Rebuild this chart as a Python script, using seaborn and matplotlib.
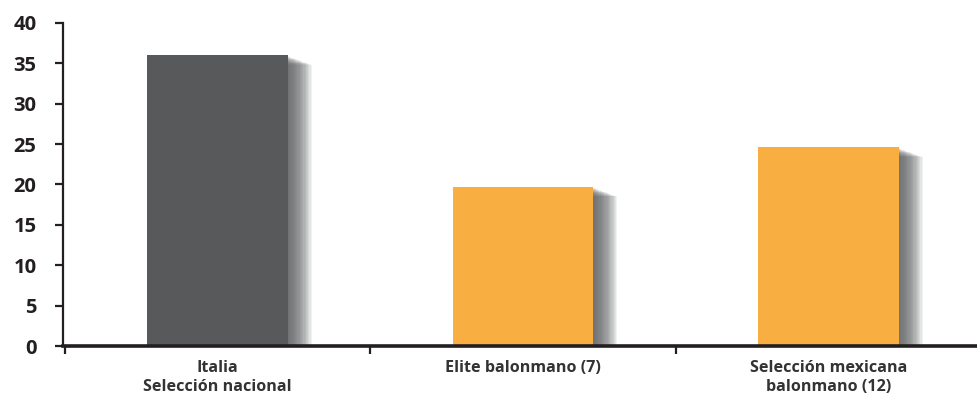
import matplotlib
matplotlib.use("Agg")
import matplotlib.pyplot as plt
import matplotlib.patheffects as pe
import seaborn as sns
import pandas as pd

categories = ["Italia\nSelección nacional", "Elite balonmano (7)", "Selección mexicana\nbalonmano (12)"]
values = [36.0, 19.7, 24.6]
bar_colors = ["#58595b", "#f9ae42", "#f9ae42"]
yticks = [0, 5, 10, 15, 20, 25, 30, 35, 40]

sns.set_theme(style="ticks")
plt.rcParams["font.family"] = ["Open Sans", "DejaVu Sans"]

df = pd.DataFrame({"grupo": categories, "valor": values})

fig = plt.figure(figsize=(9.78, 3.98), dpi=100)
ax = fig.add_axes([63 / 978, 52 / 398, 1 - 63 / 978, (346 - 23) / 398])

sns.barplot(data=df, x="grupo", y="valor", hue="grupo", palette=bar_colors,
            width=0.46, legend=False, ax=ax, saturation=1, zorder=3)

# soft drop shadow built from stacked translucent offsets (offsets in points)
shadow = []
for k in range(20):
    dx_px = 1.5 + k * 1.2
    dy_px = 1.0 + k * 0.45
    shadow.append(pe.SimplePatchShadow(offset=(dx_px * 0.72, -dy_px * 0.72),
                                       shadow_rgbFace="#5c5d60", alpha=0.085))
shadow.append(pe.Normal())
for p in ax.patches:
    p.set_path_effects(shadow)
    p.set_edgecolor("none")

ax.set_ylim(0, 40)
ax.set_xlim(-0.505, 2.49)
ax.set_yticks(yticks)
ax.set_yticklabels([str(t) for t in yticks], fontsize=14.5, fontweight="bold", color="#231f20")
ax.set_xticks([0, 1, 2])
ax.set_xticklabels(categories, fontsize=11.6, fontweight="bold", color="#333333", linespacing=1.3)
ax.set_xticks([-0.5, 0.5, 1.5], minor=True)
ax.tick_params(axis="x", which="major", bottom=True, length=0, pad=10)
ax.tick_params(axis="x", which="minor", bottom=True, length=6, width=1.6, color="#231f20", direction="out")
ax.tick_params(axis="y", left=True, length=6, width=1.6, color="#231f20", direction="out", pad=13)
ax.set_xlabel("")
ax.set_ylabel("")

for side in ["top", "right"]:
    ax.spines[side].set_visible(False)
ax.spines["left"].set_color("#231f20")
ax.spines["left"].set_linewidth(1.6)
ax.spines["bottom"].set_color("#231f20")
ax.spines["bottom"].set_linewidth(2.6)
ax.spines["bottom"].set_zorder(5)

fig.savefig("out.png", dpi=100)
